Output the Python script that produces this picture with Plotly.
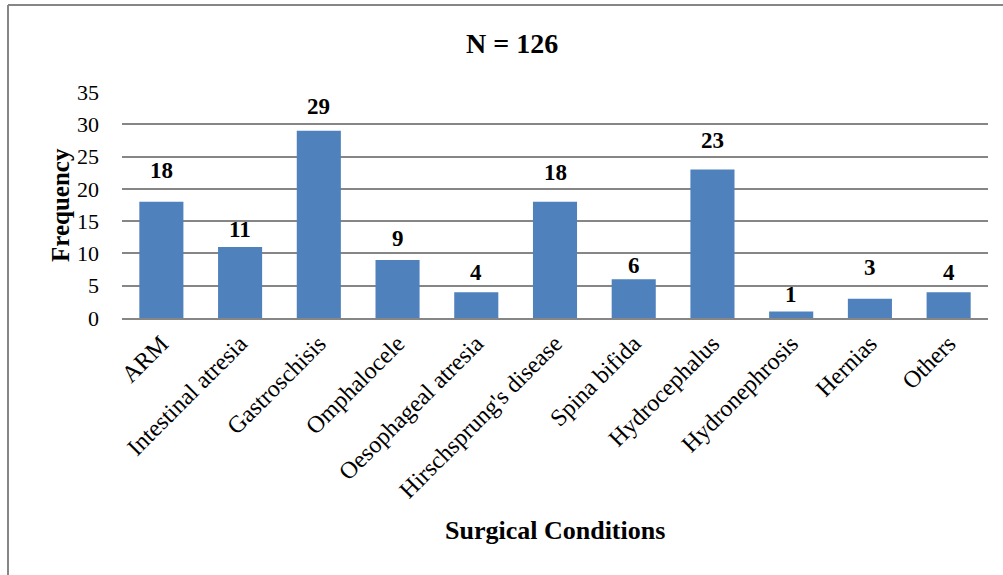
import plotly.graph_objects as go

categories = ["ARM", "Intestinal atresia", "Gastroschisis", "Omphalocele",
              "Oesophageal atresia", "Hirschsprung's disease", "Spina bifida",
              "Hydrocephalus", "Hydronephrosis", "Hernias", "Others"]
values = [18, 11, 29, 9, 4, 18, 6, 23, 1, 3, 4]
y_ticks = [0, 5, 10, 15, 20, 25, 30, 35]

# vertical pixel offset of each data label's centre above its bar (style only)
label_offsets = [31, 17, 24, 21, 20, 29, 14, 29, 17, 31, 20]

FONT = "Liberation Serif, Times New Roman, serif"
W, H = 1003, 575
L, R, T, B = 122, 15, 92, 257
pw = W - L - R
ph = H - T - B

def px_x(x):
    return (x - L) / pw

def px_y(y):
    return (H - B - y) / ph

fig = go.Figure()
fig.add_trace(go.Bar(x=categories, y=values,
                     marker=dict(color="#4F81BD", line=dict(width=0)),
                     hoverinfo="x+y"))

annotations = []
for c, v, off in zip(categories, values, label_offsets):
    annotations.append(dict(x=c, y=v, xref="x", yref="y", text=f"<b>{v}</b>",
                            showarrow=False, xanchor="center", yanchor="middle", yshift=off,
                            font=dict(family=FONT, size=23, color="black")))
annotations.append(dict(x=px_x(512), y=px_y(43), xref="paper", yref="paper",
                        text="<b>N = 126</b>", showarrow=False,
                        xanchor="center", yanchor="middle",
                        font=dict(family=FONT, size=28, color="black")))
annotations.append(dict(x=px_x(555), y=px_y(530), xref="paper", yref="paper",
                        text="<b>Surgical Conditions</b>", showarrow=False,
                        xanchor="center", yanchor="middle",
                        font=dict(family=FONT, size=26, color="black")))
annotations.append(dict(x=px_x(60), y=px_y(205), xref="paper", yref="paper",
                        text="<b>Frequency</b>", showarrow=False, textangle=-90,
                        xanchor="center", yanchor="middle",
                        font=dict(family=FONT, size=25, color="black")))

shapes = [
    dict(type="line", xref="paper", yref="paper", x0=px_x(8), x1=px_x(1010),
         y0=px_y(5), y1=px_y(5), line=dict(color="#868686", width=2)),
    dict(type="line", xref="paper", yref="paper", x0=px_x(8), x1=px_x(8),
         y0=px_y(5), y1=px_y(590), line=dict(color="#868686", width=2)),
]

fig.update_layout(
    width=W, height=H,
    margin=dict(l=L, r=R, t=T, b=B, autoexpand=False),
    paper_bgcolor="white", plot_bgcolor="white",
    bargap=0.44,
    showlegend=False,
    annotations=annotations,
    shapes=shapes,
    font=dict(family=FONT, color="black"),
)
fig.update_xaxes(tickangle=-45, tickfont=dict(family=FONT, size=24, color="black"),
                 showline=True, linecolor="#868686", linewidth=2, ticks="",
                 showgrid=False, automargin=False)
fig.update_yaxes(range=[0, 35], tickvals=y_ticks,
                 tickfont=dict(family=FONT, size=22, color="black"),
                 showgrid=True, gridcolor="#868686", gridwidth=1.5, zeroline=False,
                 showline=False, ticks="", ticklabelstandoff=22, automargin=False)

fig.write_html("out.html", config={"displayModeBar": False},
               post_script="document.body.style.margin='0';")
